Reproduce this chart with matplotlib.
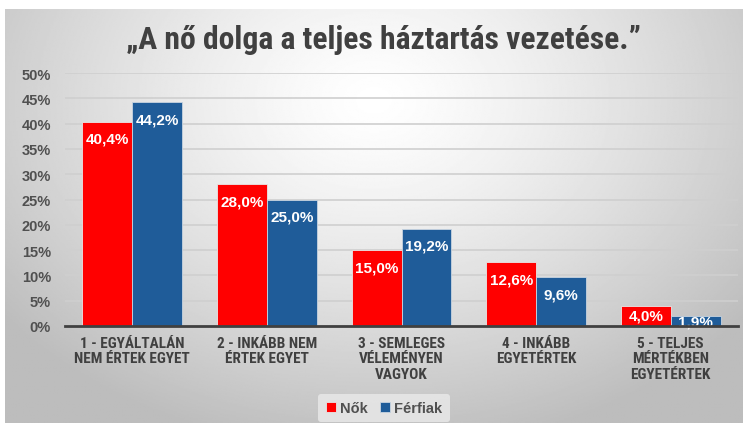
import numpy as np
import matplotlib
matplotlib.use("Agg")
import matplotlib.pyplot as plt
from matplotlib import font_manager

categories = ["1 - EGYÁLTALÁN\nNEM ÉRTEK EGYET", "2 - INKÁBB NEM\nÉRTEK EGYET",
              "3 - SEMLEGES\nVÉLEMÉNYEN\nVAGYOK", "4 - INKÁBB\nEGYETÉRTEK",
              "5 - TELJES\nMÉRTÉKBEN\nEGYETÉRTEK"]
nok = [40.4, 28.0, 15.0, 12.6, 4.0]
ferfiak = [44.2, 25.0, 19.2, 9.6, 1.9]
yticks = [0, 5, 10, 15, 20, 25, 30, 35, 40, 45, 50]
title = "\u201eA nő dolga a teljes háztartás vezetése.\u201d"

red = "#ff0000"
blue = "#1f5c99"
regular = ["Liberation Sans", "DejaVu Sans"]


def pick_narrow():
    # look for any condensed / narrow family that happens to be installed
    wanted = ["Roboto Condensed", "Open Sans Condensed", "DejaVu Sans Condensed",
              "Liberation Sans Narrow", "Noto Sans Condensed"]
    names = {}
    for f in font_manager.fontManager.ttflist:
        names.setdefault(f.name, []).append(f)
    for n in wanted:
        if n in names:
            return [n, "DejaVu Sans"], "normal"
    for n, fl in names.items():
        for f in fl:
            if str(f.stretch) in ("condensed", "semi-condensed", "extra-condensed", "75", "87.5") \
                    or "Condensed" in f.fname or "Narrow" in f.fname:
                return [n, "DejaVu Sans"], "condensed"
    return ["Liberation Sans", "DejaVu Sans"], "normal"


narrow, narrow_stretch = pick_narrow()

fig = plt.figure(figsize=(7.5, 4.27), dpi=100)
fig.patch.set_facecolor("white")

# gradient background panel
bg = fig.add_axes([5 / 750, 3 / 427, 738 / 750, 414 / 427])
bg.set_axis_off()
yy, xx = np.mgrid[0:1:300j, 0:1:500j]
r = np.sqrt(((xx - 0.5) / 0.75) ** 2 + ((yy - 0.22) / 1.0) ** 2)
shade = np.clip(1.0 - 0.32 * r ** 1.3, 0.74, 1.0)
bg.imshow(shade, cmap="gray", vmin=0, vmax=1, aspect="auto", extent=[0, 1, 1, 0])
bg.set_xlim(0, 1)
bg.set_ylim(1, 0)

ax = fig.add_axes([65 / 750, 100 / 427, 673 / 750, 253 / 427])
ax.patch.set_alpha(0)

x = np.arange(len(categories))
w = 0.37
b1 = ax.bar(x - w / 2, nok, w, color=red, edgecolor="#e8e8e8", linewidth=0.6, label="Nők", zorder=3)
b2 = ax.bar(x + w / 2, ferfiak, w, color=blue, edgecolor="#c8d4e0", linewidth=0.6, label="Férfiak", zorder=3)

for bars, vals in ((b1, nok), (b2, ferfiak)):
    for rect, v in zip(bars, vals):
        ypos = v - min(3.36, 0.5 * v)
        ax.text(rect.get_x() + rect.get_width() / 2, ypos, f"{v:.1f}%".replace(".", ","),
                ha="center", va="center", color="white", fontsize=11, fontweight="bold",
                family=regular, zorder=4)

ax.set_xlim(-0.5, len(categories) - 0.5)
ax.set_ylim(0, 50)
ax.set_yticks(yticks)
ax.set_yticklabels([f"{t}%" for t in yticks], fontsize=10.5, fontweight="bold",
                   color="#505050", family=regular)
ax.set_xticks(x)
ax.set_xticklabels(categories, fontsize=11, fontweight="bold", color="#404040",
                   family=narrow, fontstretch=narrow_stretch, linespacing=1.15)
ax.tick_params(axis="both", length=0)
ax.tick_params(axis="y", pad=10)
ax.tick_params(axis="x", pad=7)
ax.grid(axis="y", color="#cfcfcf", linewidth=1.2, zorder=0)
for s in ["top", "right", "left"]:
    ax.spines[s].set_visible(False)
ax.spines["bottom"].set_color("#404040")
ax.spines["bottom"].set_linewidth(2)
ax.spines["bottom"].set_zorder(5)

# keep category labels inside their slot width
fig.canvas.draw()
rend = fig.canvas.get_renderer()
widest = max(t.get_window_extent(rend).width for t in ax.get_xticklabels())
if widest > 124:
    for t in ax.get_xticklabels():
        t.set_fontsize(11 * 124 / widest)

tt = fig.text(383 / 750, 1 - 40 / 427, title, ha="center", va="center", fontsize=21,
              fontweight="bold", color="#404040", family=narrow, fontstretch=narrow_stretch)
fig.canvas.draw()
tw = tt.get_window_extent(rend).width
tt.set_fontsize(21 * 515 / tw)

leg = fig.legend(handles=[b1, b2], loc="center", bbox_to_anchor=(384 / 750, 1 - 409 / 427),
                 ncol=2, frameon=True, handlelength=0.7, handleheight=0.7,
                 handletextpad=0.3, columnspacing=0.8, borderpad=0.5,
                 prop={"family": regular, "weight": "bold", "size": 10.5})
leg.get_frame().set_facecolor("#e6e6e6")
leg.get_frame().set_edgecolor("none")
leg.get_frame().set_alpha(0.9)
for t in leg.get_texts():
    t.set_color("#505050")

fig.savefig("out.png", dpi=100)
